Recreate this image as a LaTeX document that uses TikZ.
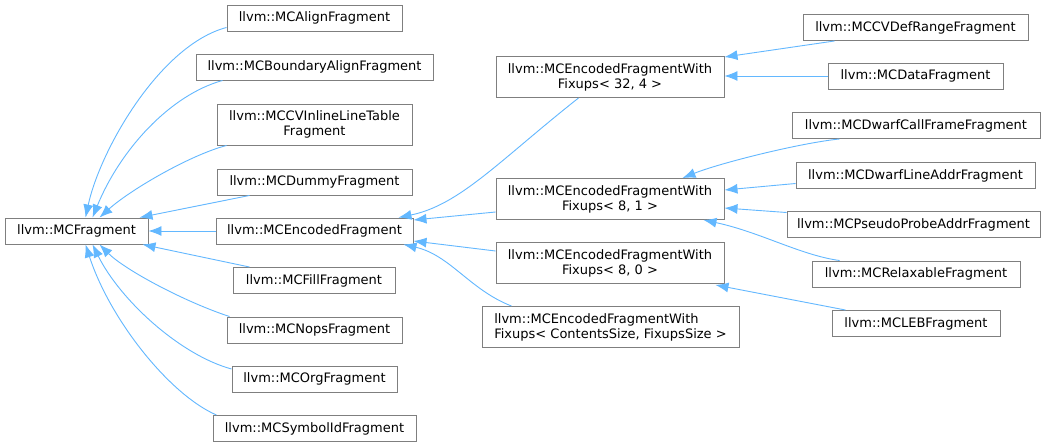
\documentclass[tikz,border=0pt]{standalone}
\usepackage{fontspec}
\setmainfont{DejaVu Sans}
\usetikzlibrary{arrows.meta,calc}
\definecolor{edgeblue}{HTML}{63B8FF}
\definecolor{boxgray}{HTML}{7F7F7F}
\begin{document}
\begin{tikzpicture}[x=1pt,y=-1pt,
  cls/.style={draw=boxgray,line width=0.95pt,fill=white,inner sep=0pt,minimum height=26pt,
    font=\fontsize{13}{15}\selectfont,align=center},
  cls2/.style={cls,minimum height=41pt},
  inh/.style={draw=edgeblue,line width=0.9pt,-{Latex[length=13pt,width=10pt]}}]
\useasboundingbox (0,0) rectangle (1047,447);
\fill[white] (0,0) rectangle (1047,447);
% left column
\node[cls,minimum width=143pt] (mcf) at (76.5,231) {llvm::MCFragment};
\node[cls,minimum width=175pt] (align) at (314.5,18) {llvm::MCAlignFragment};
\node[cls,minimum width=237pt] (boundary) at (314.5,67) {llvm::MCBoundaryAlignFragment};
\node[cls2,minimum width=195pt] (cvinline) at (314.5,124.5) {llvm::MCCVInlineLineTable\\Fragment};
\node[cls,minimum width=195pt] (dummy) at (314.5,182) {llvm::MCDummyFragment};
\node[cls,minimum width=197pt] (encoded) at (314.5,231) {llvm::MCEncodedFragment};
\node[cls,minimum width=162pt] (fill) at (314,280.5) {llvm::MCFillFragment};
\node[cls,minimum width=175pt] (nops) at (314.5,330) {llvm::MCNopsFragment};
\node[cls,minimum width=165pt] (org) at (314.5,379) {llvm::MCOrgFragment};
\node[cls,minimum width=203pt] (symbol) at (314.5,428.5) {llvm::MCSymbolIdFragment};
% middle column
\node[cls2,minimum width=228pt] (w324) at (610,77) {llvm::MCEncodedFragmentWith\\Fixups< 32, 4 >};
\node[cls2,minimum width=228pt] (w81) at (610,199) {llvm::MCEncodedFragmentWith\\Fixups< 8, 1 >};
\node[cls2,minimum width=228pt] (w80) at (610,263) {llvm::MCEncodedFragmentWith\\Fixups< 8, 0 >};
\node[cls2,minimum width=257pt,align=left] (wcont) at (610.5,327) {llvm::MCEncodedFragmentWith\\Fixups< ContentsSize, FixupsSize >};
% right column
\node[cls,minimum width=225pt] (cvdef) at (915.5,27.5) {llvm::MCCVDefRangeFragment};
\node[cls,minimum width=175pt] (data) at (915.5,76) {llvm::MCDataFragment};
\node[cls,minimum width=248pt] (dwcall) at (916,125.5) {llvm::MCDwarfCallFrameFragment};
\node[cls,minimum width=239pt] (dwline) at (915.5,175.5) {llvm::MCDwarfLineAddrFragment};
\node[cls,minimum width=253pt] (pseudo) at (913.5,224.5) {llvm::MCPseudoProbeAddrFragment};
\node[cls,minimum width=208pt] (relax) at (916,274) {llvm::MCRelaxableFragment};
\node[cls,minimum width=168pt] (leb) at (916,323.5) {llvm::MCLEBFragment};
% edges to MCFragment
\draw[inh] ($(align.south west)+(0,-4)$) .. controls (160,45) and (100,150) .. ($(mcf.north west)+(81,0)$);
\draw[inh] ($(boundary.south west)+(27,0)$) .. controls (170,95) and (120,150) .. ($(mcf.north west)+(88,0)$);
\draw[inh] ($(cvinline.south west)+(10,0)$) .. controls (190,155) and (130,190) .. ($(mcf.north west)+(95,0)$);
\draw[inh] ($(dummy.south west)+(33,0)$) -- ($(mcf.north east)+(-9,0)$);
\draw[inh] (encoded.west) -- (mcf.east);
\draw[inh] ($(fill.north west)+(17,0)$) -- ($(mcf.south east)+(-6,0)$);
\draw[inh] ($(nops.north west)+(3,0)$) .. controls (185,302) and (125,270) .. ($(mcf.south west)+(95,0)$);
\draw[inh] ($(org.west)+(0,-10)$) .. controls (180,355) and (120,300) .. ($(mcf.south west)+(88,0)$);
\draw[inh] ($(symbol.north west)+(4,0)$) .. controls (170,395) and (110,320) .. ($(mcf.south west)+(81,0)$);
% edges to MCEncodedFragment
\draw[inh] ($(w324.south west)+(83,0)$) .. controls (500,160) and (460,205) .. ($(encoded.north east)+(-15,0)$);
\draw[inh] ($(w81.west)+(0,13)$) -- ($(encoded.east)+(0,-11)$);
\draw[inh] ($(w80.west)+(0,-12)$) -- ($(encoded.east)+(0,10)$);
\draw[inh] ($(wcont.north west)+(30,0)$) .. controls (470,290) and (450,255) .. ($(encoded.south east)+(-10,0)$);
% edges to templates
\draw[inh] ($(cvdef.south west)+(32,0)$) -- ($(w324.north east)+(0,1)$);
\draw[inh] (data.west) -- ($(w324.east)+(0,-1)$);
\draw[inh] ($(dwcall.south west)+(48,0)$) .. controls (800,143) and (720,163) .. ($(w81.north east)+(-42,0)$);
\draw[inh] ($(dwline.west)+(0,8)$) -- ($(w81.east)+(0,-9)$);
\draw[inh] ($(pseudo.west)+(0,-12)$) -- ($(w81.east)+(0,9)$);
\draw[inh] ($(relax.north west)+(28,0)$) .. controls (800,255) and (760,232) .. ($(w81.south east)+(-21,0)$);
\draw[inh] ($(leb.north west)+(14,0)$) -- ($(w80.south east)+(-9,1)$);
\end{tikzpicture}
\end{document}
